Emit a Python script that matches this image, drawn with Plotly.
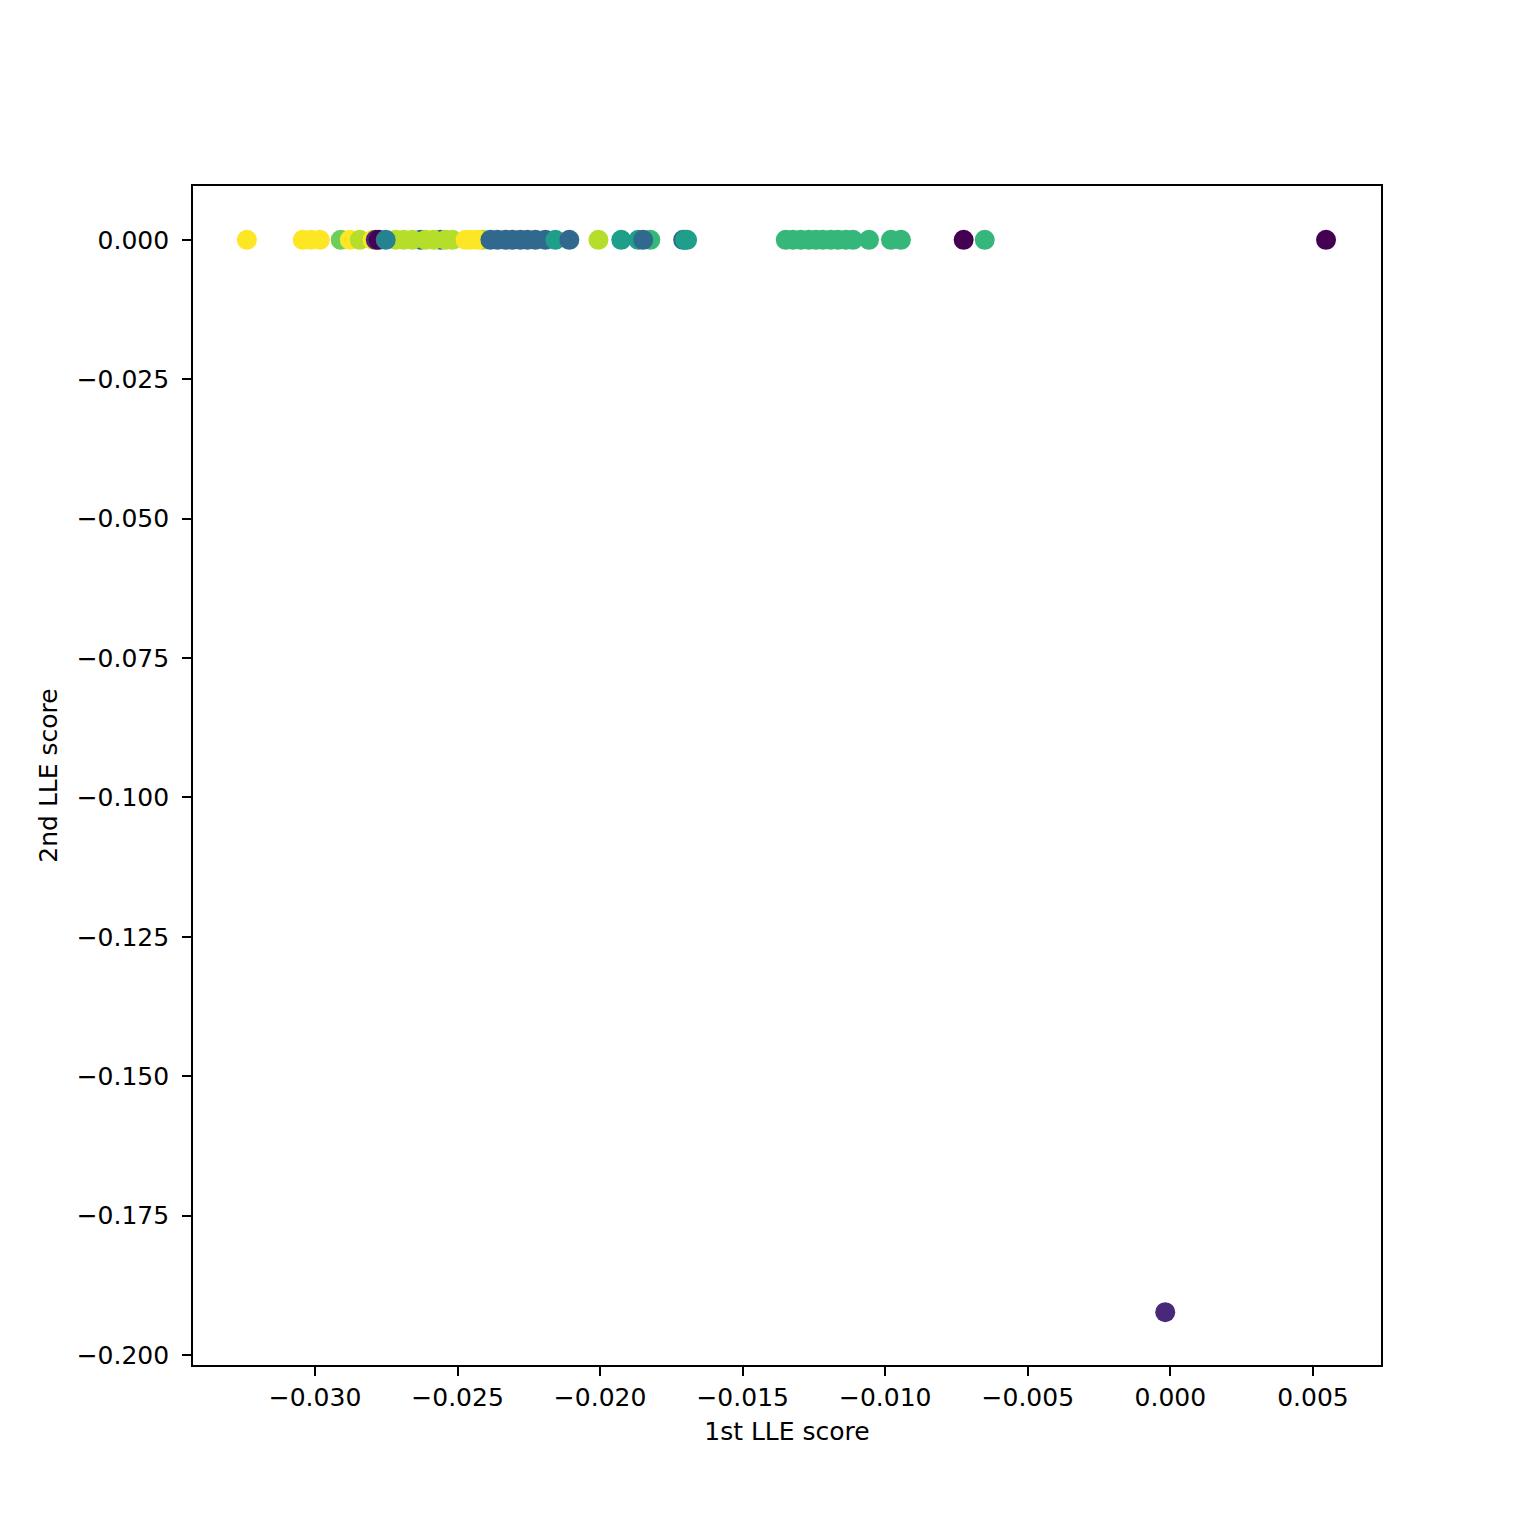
import plotly.graph_objects as go

# viridis colours for the 10 classes
class_colors = ["#440154", "#482878", "#3e4989", "#31688e", "#26828e",
                "#1f9e89", "#35b779", "#6ece58", "#b5de2b", "#fde725"]

# (1st LLE score, 2nd LLE score, class)
lle1 = [-0.03239, -0.03043, -0.03015, -0.02983,
        -0.02910, -0.02878, -0.02843, -0.02798, -0.02787, -0.02777,
        -0.02630, -0.02560,
        -0.02717, -0.02689, -0.02658, -0.02612, -0.02584, -0.02542, -0.02518,
        -0.02752,
        -0.02412, -0.02472, -0.02455, -0.02430,
        -0.02385, -0.02360, -0.02332, -0.02307, -0.02280, -0.02255, -0.02227,
        -0.02192, -0.02157, -0.02108,
        -0.02006, -0.01926, -0.01866, -0.01824, -0.01849,
        -0.01709, -0.01702, -0.01695,
        -0.01349, -0.01324, -0.01296, -0.01268, -0.01243, -0.01219, -0.01191,
        -0.01166, -0.01138, -0.01113, -0.01057, -0.00980, -0.00945,
        -0.00725, -0.00651, 0.00546, -0.00018]
lle2 = [0.0] * 58 + [-0.19231]
labels = [9, 9, 9, 9,
          7, 9, 8, 9, 1, 0,
          3, 3,
          8, 8, 8, 8, 8, 8, 8,
          4,
          8, 9, 9, 9,
          3, 3, 3, 3, 3, 3, 3,
          3, 5, 3,
          8, 5, 5, 6, 3,
          3, 5, 5,
          6, 6, 6, 6, 6, 6, 6,
          6, 6, 6, 6, 6, 6,
          0, 6, 0, 1]

x_ticks = [-0.030, -0.025, -0.020, -0.015, -0.010, -0.005, 0.000, 0.005]
y_ticks = [0.000, -0.025, -0.050, -0.075, -0.100, -0.125, -0.150, -0.175, -0.200]


def fmt(v):
    s = f"{v:.3f}"
    if s.startswith("-"):
        s = "\u2212" + s[1:]
    return s


fig = go.Figure(go.Scatter(
    x=lle1, y=lle2, mode="markers",
    marker=dict(size=20, color=[class_colors[c] for c in labels], line=dict(width=0)),
    showlegend=False,
))

axis_common = dict(
    showgrid=False, zeroline=False, showline=True, mirror=True,
    linecolor="black", linewidth=1.6, ticks="outside", ticklen=9, tickwidth=1.6,
    tickcolor="black", tickfont=dict(family="DejaVu Sans", size=25, color="black"),
)

fig.update_layout(
    width=1536, height=1536,
    margin=dict(l=185, r=163, t=178, b=179),
    paper_bgcolor="white", plot_bgcolor="white",
    font=dict(family="DejaVu Sans", size=25, color="black"),
    xaxis=dict(range=[-0.03428, 0.007388], tickvals=x_ticks,
               ticktext=[fmt(v) for v in x_ticks],
               title=dict(text="1st LLE score", standoff=12,
                          font=dict(family="DejaVu Sans", size=25)),
               **axis_common),
    yaxis=dict(range=[-0.20179, 0.00966], tickvals=y_ticks,
               ticktext=[fmt(v) for v in y_ticks], ticklabelstandoff=8,
               title=dict(text="2nd LLE score", standoff=12,
                          font=dict(family="DejaVu Sans", size=25)),
               **axis_common),
)

fig.write_html("out.html")
